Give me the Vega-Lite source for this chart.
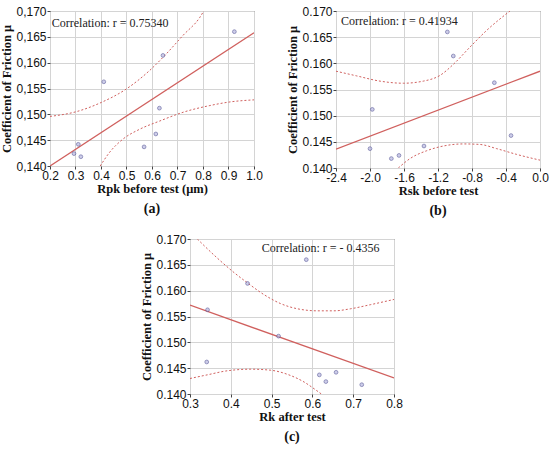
{
  "$schema": "https://vega.github.io/schema/vega-lite/v6.json",
  "padding": {"left": 0, "top": 4, "right": 2, "bottom": 2},
  "background": "white",
  "config": {
    "font": "Liberation Sans",
    "view": {"stroke": "#444", "strokeWidth": 1},
    "axis": {
      "labelFont": "Liberation Sans", "labelFontSize": 12, "labelColor": "#111",
      "titleFont": "Liberation Serif", "titleFontWeight": "bold", "titleFontSize": 12.5, "titleColor": "#111",
      "gridColor": "#d4d4d4", "domain": false, "tickColor": "#444", "tickSize": 3, "labelPadding": 1,
      "labelFlush": false, "labelOverlap": false
    },
    "axisY": {"titlePadding": 2},
    "axisX": {"titlePadding": 1},
    "title": {"orient": "bottom", "font": "Liberation Serif", "fontSize": 14, "fontWeight": "bold", "color": "#111", "offset": 7}
  },
  "datasets": {
    "all": [
      {"panel": "a", "kind": "sample", "x": 0.923, "cof": 0.1660},
      {"panel": "a", "kind": "sample", "x": 0.643, "cof": 0.1614},
      {"panel": "a", "kind": "sample", "x": 0.411, "cof": 0.1563},
      {"panel": "a", "kind": "sample", "x": 0.629, "cof": 0.1512},
      {"panel": "a", "kind": "sample", "x": 0.615, "cof": 0.1462},
      {"panel": "a", "kind": "sample", "x": 0.569, "cof": 0.1437},
      {"panel": "a", "kind": "sample", "x": 0.311, "cof": 0.1442},
      {"panel": "a", "kind": "sample", "x": 0.294, "cof": 0.1424},
      {"panel": "a", "kind": "sample", "x": 0.321, "cof": 0.1418},
      {"panel": "b", "kind": "sample", "x": -1.090, "cof": 0.1660},
      {"panel": "b", "kind": "sample", "x": -1.020, "cof": 0.1614},
      {"panel": "b", "kind": "sample", "x": -0.537, "cof": 0.1563},
      {"panel": "b", "kind": "sample", "x": -1.973, "cof": 0.1512},
      {"panel": "b", "kind": "sample", "x": -0.341, "cof": 0.1462},
      {"panel": "b", "kind": "sample", "x": -2.000, "cof": 0.1437},
      {"panel": "b", "kind": "sample", "x": -1.365, "cof": 0.1442},
      {"panel": "b", "kind": "sample", "x": -1.659, "cof": 0.1424},
      {"panel": "b", "kind": "sample", "x": -1.749, "cof": 0.1418},
      {"panel": "c", "kind": "sample", "x": 0.585, "cof": 0.1660},
      {"panel": "c", "kind": "sample", "x": 0.441, "cof": 0.1614},
      {"panel": "c", "kind": "sample", "x": 0.343, "cof": 0.1563},
      {"panel": "c", "kind": "sample", "x": 0.517, "cof": 0.1512},
      {"panel": "c", "kind": "sample", "x": 0.341, "cof": 0.1462},
      {"panel": "c", "kind": "sample", "x": 0.617, "cof": 0.1437},
      {"panel": "c", "kind": "sample", "x": 0.658, "cof": 0.1442},
      {"panel": "c", "kind": "sample", "x": 0.633, "cof": 0.1424},
      {"panel": "c", "kind": "sample", "x": 0.721, "cof": 0.1418},

      {"panel": "a", "kind": "fit", "x": 0.2, "cof": 0.1400},
      {"panel": "a", "kind": "fit", "x": 1.0, "cof": 0.1658},
      {"panel": "b", "kind": "fit", "x": -2.4, "cof": 0.1436},
      {"panel": "b", "kind": "fit", "x": 0.0, "cof": 0.1585},
      {"panel": "c", "kind": "fit", "x": 0.3, "cof": 0.1572},
      {"panel": "c", "kind": "fit", "x": 0.8, "cof": 0.1431},

      {"panel": "a", "kind": "upper", "x": 0.200, "cof": 0.1496},
      {"panel": "a", "kind": "upper", "x": 0.302, "cof": 0.1505},
      {"panel": "a", "kind": "upper", "x": 0.401, "cof": 0.1523},
      {"panel": "a", "kind": "upper", "x": 0.499, "cof": 0.1549},
      {"panel": "a", "kind": "upper", "x": 0.591, "cof": 0.1585},
      {"panel": "a", "kind": "upper", "x": 0.656, "cof": 0.1617},
      {"panel": "a", "kind": "upper", "x": 0.722, "cof": 0.1653},
      {"panel": "a", "kind": "upper", "x": 0.788, "cof": 0.1688},
      {"panel": "a", "kind": "upper", "x": 0.803, "cof": 0.1700},
      {"panel": "a", "kind": "lower", "x": 0.397, "cof": 0.1400},
      {"panel": "a", "kind": "lower", "x": 0.433, "cof": 0.1426},
      {"panel": "a", "kind": "lower", "x": 0.486, "cof": 0.1452},
      {"panel": "a", "kind": "lower", "x": 0.551, "cof": 0.1471},
      {"panel": "a", "kind": "lower", "x": 0.630, "cof": 0.1487},
      {"panel": "a", "kind": "lower", "x": 0.722, "cof": 0.1504},
      {"panel": "a", "kind": "lower", "x": 0.827, "cof": 0.1517},
      {"panel": "a", "kind": "lower", "x": 0.906, "cof": 0.1524},
      {"panel": "a", "kind": "lower", "x": 1.000, "cof": 0.1528},

      {"panel": "b", "kind": "upper", "x": -2.400, "cof": 0.1585},
      {"panel": "b", "kind": "upper", "x": -2.157, "cof": 0.1576},
      {"panel": "b", "kind": "upper", "x": -1.882, "cof": 0.1566},
      {"panel": "b", "kind": "upper", "x": -1.608, "cof": 0.1562},
      {"panel": "b", "kind": "upper", "x": -1.373, "cof": 0.1566},
      {"panel": "b", "kind": "upper", "x": -1.176, "cof": 0.1577},
      {"panel": "b", "kind": "upper", "x": -1.020, "cof": 0.1598},
      {"panel": "b", "kind": "upper", "x": -0.824, "cof": 0.1631},
      {"panel": "b", "kind": "upper", "x": -0.627, "cof": 0.1663},
      {"panel": "b", "kind": "upper", "x": -0.353, "cof": 0.1700},
      {"panel": "b", "kind": "lower", "x": -1.667, "cof": 0.1400},
      {"panel": "b", "kind": "lower", "x": -1.529, "cof": 0.1418},
      {"panel": "b", "kind": "lower", "x": -1.333, "cof": 0.1433},
      {"panel": "b", "kind": "lower", "x": -1.137, "cof": 0.1442},
      {"panel": "b", "kind": "lower", "x": -0.902, "cof": 0.1446},
      {"panel": "b", "kind": "lower", "x": -0.706, "cof": 0.1445},
      {"panel": "b", "kind": "lower", "x": -0.510, "cof": 0.1437},
      {"panel": "b", "kind": "lower", "x": -0.275, "cof": 0.1426},
      {"panel": "b", "kind": "lower", "x": 0.000, "cof": 0.1415},

      {"panel": "c", "kind": "upper", "x": 0.318, "cof": 0.1700},
      {"panel": "c", "kind": "upper", "x": 0.367, "cof": 0.1663},
      {"panel": "c", "kind": "upper", "x": 0.408, "cof": 0.1635},
      {"panel": "c", "kind": "upper", "x": 0.441, "cof": 0.1615},
      {"panel": "c", "kind": "upper", "x": 0.482, "cof": 0.1592},
      {"panel": "c", "kind": "upper", "x": 0.522, "cof": 0.1575},
      {"panel": "c", "kind": "upper", "x": 0.563, "cof": 0.1565},
      {"panel": "c", "kind": "upper", "x": 0.612, "cof": 0.1561},
      {"panel": "c", "kind": "upper", "x": 0.653, "cof": 0.1561},
      {"panel": "c", "kind": "upper", "x": 0.694, "cof": 0.1565},
      {"panel": "c", "kind": "upper", "x": 0.743, "cof": 0.1573},
      {"panel": "c", "kind": "upper", "x": 0.800, "cof": 0.1583},
      {"panel": "c", "kind": "lower", "x": 0.300, "cof": 0.1430},
      {"panel": "c", "kind": "lower", "x": 0.342, "cof": 0.1437},
      {"panel": "c", "kind": "lower", "x": 0.392, "cof": 0.1445},
      {"panel": "c", "kind": "lower", "x": 0.449, "cof": 0.1448},
      {"panel": "c", "kind": "lower", "x": 0.498, "cof": 0.1446},
      {"panel": "c", "kind": "lower", "x": 0.539, "cof": 0.1438},
      {"panel": "c", "kind": "lower", "x": 0.580, "cof": 0.1423},
      {"panel": "c", "kind": "lower", "x": 0.608, "cof": 0.1408},
      {"panel": "c", "kind": "lower", "x": 0.622, "cof": 0.1400}
    ],
    "notes": [
      {"panel": "a", "x": 0.207, "cof": 0.1676, "label": "Correlation: r = 0.75340"},
      {"panel": "b", "x": -2.34, "cof": 0.1680, "label": "Correlation: r = 0.41934"},
      {"panel": "c", "x": 0.476, "cof": 0.1683, "label": "Correlation: r = - 0.4356"}
    ]
  },
  "vconcat": [
    {
      "hconcat": [
        {
          "width": 204, "height": 155,
          "title": "(a)",
          "data": {"name": "all"},
          "transform": [{"filter": "datum.panel == 'a'"}],
          "encoding": {
            "x": {"field": "x", "type": "quantitative",
                  "scale": {"domain": [0.2, 1.0], "nice": false, "zero": false},
                  "axis": {"values": [0.2, 0.3, 0.4, 0.5, 0.6, 0.7, 0.8, 0.9, 1.0], "format": ".1f", "title": "Rpk before test (μm)"}},
            "y": {"field": "cof", "type": "quantitative",
                  "scale": {"domain": [0.14, 0.17], "nice": false, "zero": false},
                  "axis": {"values": [0.14, 0.145, 0.15, 0.155, 0.16, 0.165, 0.17],
                           "labelExpr": "replace(format(datum.value, '.3f'), '.', ',')",
                           "title": "Coefficient of Friction μ"}}
          },
          "layer": [
            {"transform": [{"filter": "datum.kind == 'upper' || datum.kind == 'lower'"}],
             "mark": {"type": "line", "color": "#d0605e", "strokeWidth": 1, "strokeDash": [2, 2], "interpolate": "monotone", "clip": true},
             "encoding": {"detail": {"field": "kind"}}},
            {"transform": [{"filter": "datum.kind == 'fit'"}],
             "mark": {"type": "line", "color": "#d0605e", "strokeWidth": 1.3, "clip": true}},
            {"transform": [{"filter": "datum.kind == 'sample'"}],
             "mark": {"type": "point", "shape": "circle", "filled": true, "size": 14, "color": "#b8b8e0", "stroke": "#4a4a90", "strokeWidth": 0.8}},
            {"data": {"name": "notes"},
             "transform": [{"filter": "datum.panel == 'a'"}],
             "mark": {"type": "text", "align": "left", "baseline": "middle", "font": "Liberation Serif", "fontSize": 12, "color": "#222"},
             "encoding": {"text": {"field": "label"}}}
          ]
        },
        {
          "width": 204, "height": 157,
          "title": "(b)",
          "data": {"name": "all"},
          "transform": [{"filter": "datum.panel == 'b'"}],
          "encoding": {
            "x": {"field": "x", "type": "quantitative",
                  "scale": {"domain": [-2.4, 0.0], "nice": false, "zero": false},
                  "axis": {"values": [-2.4, -2.0, -1.6, -1.2, -0.8, -0.4, 0.0],
                           "labelExpr": "replace(format(datum.value, '.1f'), '−', '-')",
                           "title": "Rsk before test"}},
            "y": {"field": "cof", "type": "quantitative",
                  "scale": {"domain": [0.14, 0.17], "nice": false, "zero": false},
                  "axis": {"values": [0.14, 0.145, 0.15, 0.155, 0.16, 0.165, 0.17], "format": ".3f",
                           "title": "Coefficient of Friction μ"}}
          },
          "layer": [
            {"transform": [{"filter": "datum.kind == 'upper' || datum.kind == 'lower'"}],
             "mark": {"type": "line", "color": "#d0605e", "strokeWidth": 1, "strokeDash": [2, 2], "interpolate": "monotone", "clip": true},
             "encoding": {"detail": {"field": "kind"}}},
            {"transform": [{"filter": "datum.kind == 'fit'"}],
             "mark": {"type": "line", "color": "#d0605e", "strokeWidth": 1.3, "clip": true}},
            {"transform": [{"filter": "datum.kind == 'sample'"}],
             "mark": {"type": "point", "shape": "circle", "filled": true, "size": 14, "color": "#b8b8e0", "stroke": "#4a4a90", "strokeWidth": 0.8}},
            {"data": {"name": "notes"},
             "transform": [{"filter": "datum.panel == 'b'"}],
             "mark": {"type": "text", "align": "left", "baseline": "middle", "font": "Liberation Serif", "fontSize": 12, "color": "#222"},
             "encoding": {"text": {"field": "label"}}}
          ]
        }
      ],
      "spacing": 23
    },
    {
      "hconcat": [
        {
          "width": 90, "height": 10,
          "data": {"values": []},
          "mark": "text",
          "view": {"stroke": null}
        },
        {
          "width": 204, "height": 155,
          "title": "(c)",
          "data": {"name": "all"},
          "transform": [{"filter": "datum.panel == 'c'"}],
          "encoding": {
            "x": {"field": "x", "type": "quantitative",
                  "scale": {"domain": [0.3, 0.8], "nice": false, "zero": false},
                  "axis": {"values": [0.3, 0.4, 0.5, 0.6, 0.7, 0.8], "format": ".1f", "title": "Rk after test"}},
            "y": {"field": "cof", "type": "quantitative",
                  "scale": {"domain": [0.14, 0.17], "nice": false, "zero": false},
                  "axis": {"values": [0.14, 0.145, 0.15, 0.155, 0.16, 0.165, 0.17], "format": ".3f",
                           "title": "Coefficient of Friction μ"}}
          },
          "layer": [
            {"transform": [{"filter": "datum.kind == 'upper' || datum.kind == 'lower'"}],
             "mark": {"type": "line", "color": "#d0605e", "strokeWidth": 1, "strokeDash": [2, 2], "interpolate": "monotone", "clip": true},
             "encoding": {"detail": {"field": "kind"}}},
            {"transform": [{"filter": "datum.kind == 'fit'"}],
             "mark": {"type": "line", "color": "#d0605e", "strokeWidth": 1.3, "clip": true}},
            {"transform": [{"filter": "datum.kind == 'sample'"}],
             "mark": {"type": "point", "shape": "circle", "filled": true, "size": 14, "color": "#b8b8e0", "stroke": "#4a4a90", "strokeWidth": 0.8}},
            {"data": {"name": "notes"},
             "transform": [{"filter": "datum.panel == 'c'"}],
             "mark": {"type": "text", "align": "left", "baseline": "middle", "font": "Liberation Serif", "fontSize": 12, "color": "#222"},
             "encoding": {"text": {"field": "label"}}}
          ]
        }
      ],
      "spacing": 0
    }
  ],
  "spacing": 14
}
